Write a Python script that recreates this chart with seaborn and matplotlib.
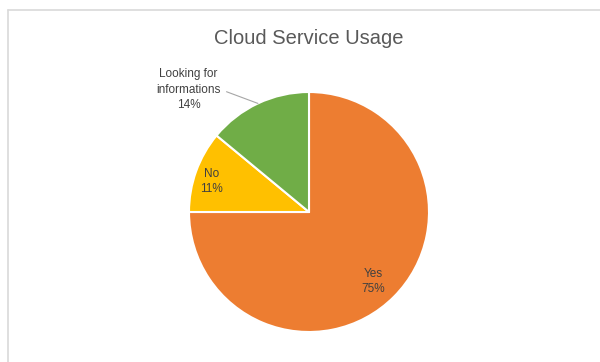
import numpy as np
import matplotlib
matplotlib.use("Agg")
import matplotlib.pyplot as plt
import seaborn as sns

# Survey answers and their shares (%)
categories = ["Yes", "No", "Looking for\ninformations"]
shares = [75, 11, 14]
colors = ["#ED7D31", "#FFC000", "#70AD47"]
title = "Cloud Service Usage"

sns.set_theme(style="white")
plt.rcParams["font.family"] = ["Liberation Sans", "DejaVu Sans"]

fig = plt.figure(figsize=(6.0, 3.62), dpi=100)
fig.patch.set_facecolor("white")

# light chart-area frame
frame = fig.add_axes([0, 0, 1, 1])
frame.set_xlim(0, 600)
frame.set_ylim(362, 0)
frame.axis("off")
frame.plot([8, 8], [10, 362], color="#d9d9d9", lw=1.2)
frame.plot([8, 600], [10, 10], color="#d9d9d9", lw=1.2)

fig.text(309 / 600, 1 - 39 / 362, title, ha="center", va="center",
         fontsize=14.5, color="#595959")

# pie area: centre (309, 212) px, radius 120 px
cx, cy, r = 309, 212, 120
ax = fig.add_axes([(cx - r) / 600, (362 - cy - r) / 362, 2 * r / 600, 2 * r / 362])
wedges, _ = ax.pie(shares, colors=colors, startangle=90, counterclock=False,
                   wedgeprops=dict(edgecolor="white", linewidth=1.5))
ax.set_xlim(-1, 1)
ax.set_ylim(-1, 1)
ax.set_aspect("auto")

label_color = "#404040"
fs = 8.5
for i, (w, cat, val) in enumerate(zip(wedges, categories, shares)):
    mid = np.deg2rad((w.theta1 + w.theta2) / 2)
    text = f"{cat}\n{val}%"
    if i == 2:
        # outside label with leader line
        ax.annotate(text, xy=(np.cos(mid), np.sin(mid)), xytext=(-50, 10),
                    textcoords="offset points", ha="center", va="center",
                    fontsize=fs, color=label_color, linespacing=1.35,
                    arrowprops=dict(arrowstyle="-", color="#a6a6a6", lw=0.8,
                                    relpos=(1, 0.5), shrinkA=2, shrinkB=0))
    else:
        d = 0.76 if i == 0 else 0.86
        ax.text(d * np.cos(mid), d * np.sin(mid) - 0.04, text, ha="center", va="center",
                fontsize=fs, color=label_color, linespacing=1.35)

fig.savefig("out.png", dpi=100, facecolor="white")
